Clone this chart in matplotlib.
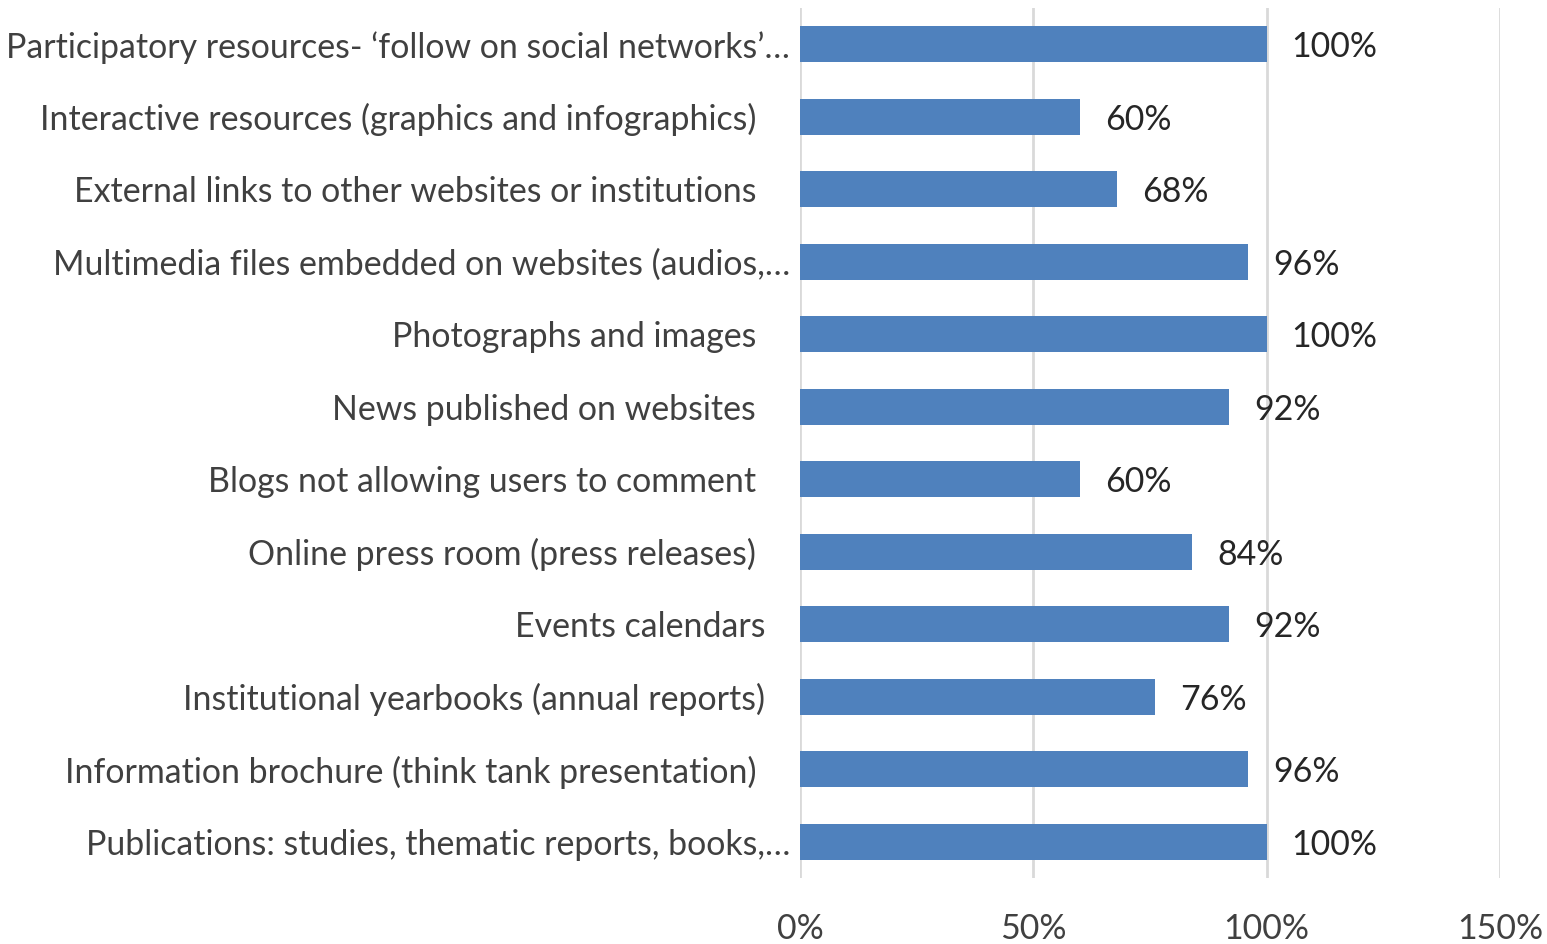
import matplotlib.pyplot as plt

categories = [
    "Participatory resources- \u2018follow on social networks\u2019\u2026",
    "Interactive resources (graphics and infographics)",
    "External links to other websites or institutions",
    "Multimedia files embedded on websites (audios,\u2026",
    "Photographs and images",
    "News published on websites",
    "Blogs not allowing users to comment",
    "Online press room (press releases)",
    "Events calendars",
    "Institutional yearbooks (annual reports)",
    "Information brochure (think tank presentation)",
    "Publications: studies, thematic reports, books,\u2026",
]
values = [1.00, 0.60, 0.68, 0.96, 1.00, 0.92, 0.60, 0.84, 0.92, 0.76, 0.96, 1.00]
# distance (px) between label end and the axis, as in the original
label_gap_px = [10, 44, 44, 10, 44, 44, 44, 44, 35, 35, 44, 10]
xticks = [0, 0.5, 1.0, 1.5]

plt.rcParams['font.family'] = ['Lato', 'DejaVu Sans']
fs = 24.4

fig = plt.figure(figsize=(15.47, 9.44), dpi=100)
ax = fig.add_axes([800 / 1547, 1 - 878 / 944, 700 / 1547, 870 / 944])

y = list(range(len(categories)))
ax.barh(y, values, height=0.5, color='#4F81BD', zorder=3)
ax.set_ylim(len(categories) - 0.5, -0.5)
ax.set_xlim(0, 1.5)

for yi, v in zip(y, values):
    ax.annotate(f"{round(v * 100)}%", (v, yi), xytext=(18, -2), textcoords='offset points',
                va='center', ha='left', fontsize=fs, color='#262626')

ax.set_yticks(y)
ax.set_yticklabels(categories, fontsize=fs, color='#404040')
for tick, gap in zip(ax.yaxis.get_major_ticks(), label_gap_px):
    tick.set_pad(gap * 0.72)

ax.set_xticks(xticks)
ax.set_xticklabels([f"{int(t * 100)}%" for t in xticks], fontsize=fs, color='#404040')
ax.tick_params(axis='x', length=0, pad=25)
ax.tick_params(axis='y', length=0)

ax.grid(axis='x', color='#D9D9D9', linewidth=2, zorder=0)
for s in ax.spines.values():
    s.set_visible(False)

fig.savefig('out.png', dpi=100)
